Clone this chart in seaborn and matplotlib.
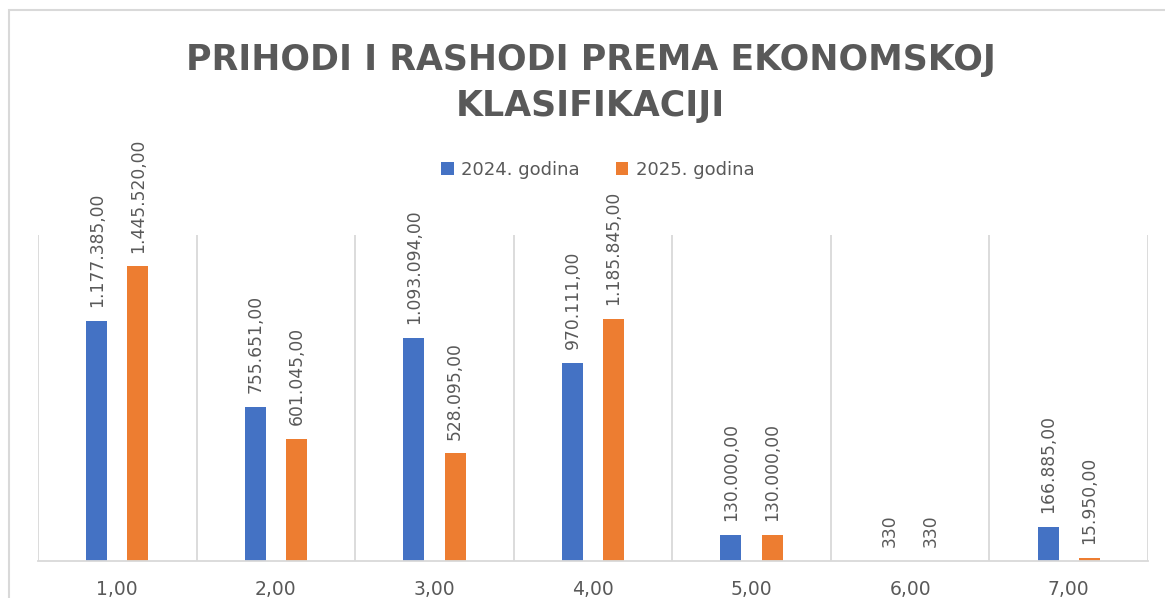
import pandas as pd
import matplotlib
matplotlib.use("Agg")
import matplotlib.pyplot as plt
from matplotlib.patches import Rectangle
import seaborn as sns

# values
kategorije = ["1,00", "2,00", "3,00", "4,00", "5,00", "6,00", "7,00"]
godine = ["2024. godina", "2025. godina"]
iznosi_2024 = [1177385, 755651, 1093094, 970111, 130000, 330, 166885]
iznosi_2025 = [1445520, 601045, 528095, 1185845, 130000, 330, 15950]
oznake_2024 = ["1.177.385,00", "755.651,00", "1.093.094,00", "970.111,00",
               "130.000,00", "330", "166.885,00"]
oznake_2025 = ["1.445.520,00", "601.045,00", "528.095,00", "1.185.845,00",
               "130.000,00", "330", "15.950,00"]

BOJE = ["#4472C4", "#ED7D31"]
SIVA_TEKST = "#595959"
SIVA_LINIJA = "#D9D9D9"

df = pd.DataFrame({
    "kategorija": kategorije * 2,
    "iznos": iznosi_2024 + iznosi_2025,
    "godina": [godine[0]] * len(kategorije) + [godine[1]] * len(kategorije),
})

sns.set_style("white")
plt.rcParams["font.family"] = ["DejaVu Sans"]

fig = plt.figure(figsize=(11.65, 5.98), dpi=100)
ax = fig.add_axes([38 / 1165, 1 - 561 / 598, 1110 / 1165, 326 / 598])

sns.barplot(data=df, x="kategorija", y="iznos", hue="godina",
            palette=BOJE, saturation=1, width=0.52, gap=0.49, linewidth=0,
            order=kategorije, hue_order=godine, ax=ax)

for container, oznake in zip(ax.containers, [oznake_2024, oznake_2025]):
    ax.bar_label(container, labels=oznake, rotation=90, padding=10,
                 fontsize=12.3, color=SIVA_TEKST)

ax.set_ylim(0, 1600000)
ax.set_xlim(-0.5, len(kategorije) - 0.5)
ax.set_yticks([])
ax.set_xlabel("")
ax.set_ylabel("")
ax.set_xticks(range(len(kategorije)), kategorije)
ax.set_xticks([i - 0.5 for i in range(len(kategorije) + 1)], minor=True)
ax.tick_params(axis="x", which="both", length=0, pad=14,
               labelsize=13.5, labelcolor=SIVA_TEKST)
ax.grid(which="minor", axis="x", color=SIVA_LINIJA, linewidth=1.3)
ax.grid(which="major", axis="both", visible=False)
for strana in ["top", "left", "right"]:
    ax.spines[strana].set_visible(False)
ax.spines["bottom"].set_color(SIVA_LINIJA)
ax.spines["bottom"].set_linewidth(1.3)

handles, labels = ax.get_legend_handles_labels()
ax.legend(handles, labels, loc="center", bbox_to_anchor=(0.513, 1 - 170 / 598),
          bbox_transform=fig.transFigure, ncol=2, frameon=False,
          handlelength=0.7, handleheight=0.7, handletextpad=0.4,
          columnspacing=2.0, fontsize=13, labelcolor=SIVA_TEKST)

fig.text(0.507, 1 - 83 / 598, "PRIHODI I RASHODI PREMA EKONOMSKOJ\nKLASIFIKACIJI",
         ha="center", va="center", fontsize=25, fontweight="bold",
         color=SIVA_TEKST, linespacing=1.45)

# chart frame (cut off on the right and bottom in the reference)
fig.patches.append(Rectangle((9 / 1165, -0.1), 1.2, 1.1 - 10 / 598,
                             transform=fig.transFigure, fill=False,
                             edgecolor=SIVA_LINIJA, linewidth=1.5))

fig.savefig("out.png", dpi=100)
